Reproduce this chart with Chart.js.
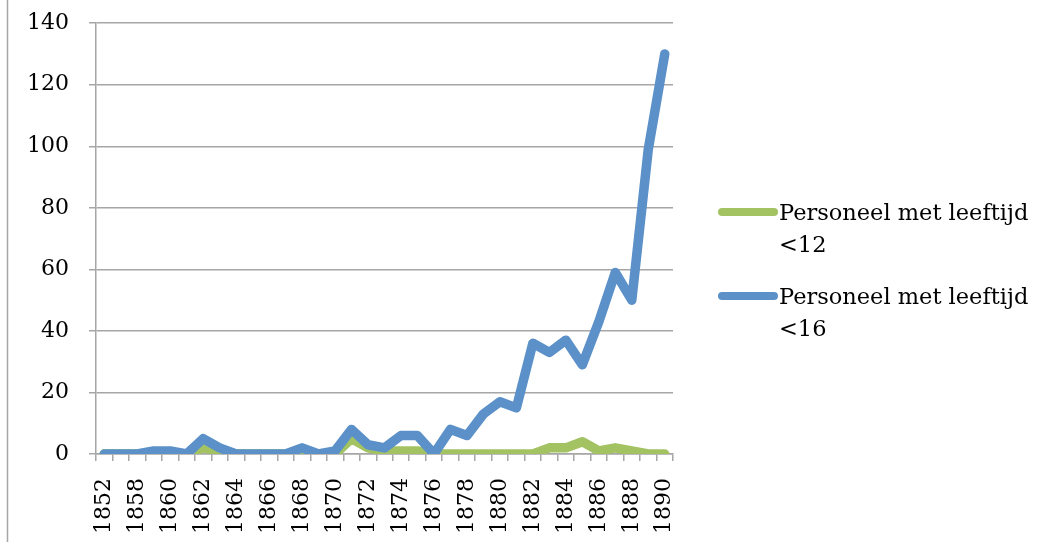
<!DOCTYPE html>
<html>
<head>
<meta charset="utf-8">
<script src="https://cdn.jsdelivr.net/npm/chart.js@4/dist/chart.umd.min.js"></script>
<style>
  html, body { margin: 0; padding: 0; background: #fff; }
  #wrap { position: relative; width: 1055px; height: 542px; overflow: hidden; }
  #chart { position: absolute; left: 0; top: -10px; }
</style>
</head>
<body>
<div id="wrap"><canvas id="chart" width="1055" height="562"></canvas></div>
<script>
// years on the category axis (second one has a hidden label)
const years = ['1852', '1856', '1858', '1859', '1860', '1861', '1862', '1863', '1864', '1865',
  '1866', '1867', '1868', '1869', '1870', '1871', '1872', '1873', '1874', '1875',
  '1876', '1877', '1878', '1879', '1880', '1881', '1882', '1883', '1884', '1885',
  '1886', '1887', '1888', '1889', '1890'];

const under12 = [0, 0, 0, 0, 0, 0, 2, 1, 0, 0,
  0, 0, 0, 0, 0, 5, 2, 1, 1, 1,
  0, 0, 0, 0, 0, 0, 0, 2, 2, 4,
  1, 2, 1, 0, 0];

const under16 = [0, 0, 0, 1, 1, 0, 5, 2, 0, 0,
  0, 0, 2, 0, 1, 8, 3, 2, 6, 6,
  0, 8, 6, 13, 17, 15, 36, 33, 37, 29,
  43, 59, 50, 99, 130];

const seriesNames = [['Personeel met leeftijd', '<12'], ['Personeel met leeftijd', '<16']];
const yTicks = [0, 20, 40, 60, 80, 100, 120, 140];

const green = '#a3c363';
const blue = '#5b90c8';
const gridGrey = '#a6a6a6';
const serif = "'DejaVu Serif', 'Liberation Serif', serif";
const shift = 10; // canvas sits 10px above the page top

// draws the left frame line and the two-line legend on the right
const extras = {
  id: 'extras',
  afterDraw(chart) {
    const ctx = chart.ctx;
    ctx.save();
    ctx.strokeStyle = gridGrey;
    ctx.lineWidth = 1.5;
    ctx.beginPath();
    ctx.moveTo(7.5, 0);
    ctx.lineTo(7.5, 562);
    ctx.stroke();

    const rows = [212 + shift, 296 + shift];
    chart.data.datasets.forEach((ds, i) => {
      const y = rows[i];
      ctx.strokeStyle = ds.borderColor;
      ctx.lineWidth = 8;
      ctx.lineCap = 'round';
      ctx.beginPath();
      ctx.moveTo(722, y);
      ctx.lineTo(774, y);
      ctx.stroke();
      ctx.fillStyle = '#000';
      ctx.font = '22.5px ' + serif;
      ctx.textBaseline = 'middle';
      ctx.textAlign = 'left';
      seriesNames[i].forEach((t, k) => {
        ctx.fillText(t, 779, y + 2 + k * 32);
      });
    });
    ctx.restore();
  }
};

new Chart(document.getElementById('chart'), {
  type: 'line',
  data: {
    labels: years,
    datasets: [
      {
        label: seriesNames[0].join(' '),
        data: under12,
        borderColor: green,
        backgroundColor: green,
        order: 1
      },
      {
        label: seriesNames[1].join(' '),
        data: under16,
        borderColor: blue,
        backgroundColor: blue,
        order: 0
      }
    ]
  },
  options: {
    responsive: false,
    animation: false,
    layout: { padding: { left: 7, top: 0, right: 382, bottom: 1 } },
    elements: {
      line: { borderWidth: 9.5, tension: 0, borderJoinStyle: 'round', borderCapStyle: 'round' },
      point: { radius: 0 }
    },
    plugins: {
      legend: { display: false },
      tooltip: { enabled: false }
    },
    scales: {
      x: {
        offset: true,
        grid: {
          offset: true,
          drawOnChartArea: false,
          drawTicks: true,
          tickLength: 7,
          color: gridGrey,
          lineWidth: 1.5
        },
        border: { color: gridGrey, width: 1.5 },
        ticks: {
          autoSkip: false,
          maxRotation: 90,
          minRotation: 90,
          padding: 17,
          color: '#000',
          font: { family: serif, size: 22 },
          callback: function(value, index) {
            return index % 2 === 0 ? years[index] : '';
          }
        }
      },
      y: {
        min: yTicks[0],
        max: yTicks[yTicks.length - 1],
        afterBuildTicks: function(axis) {
          axis.ticks = yTicks.map(v => ({ value: v }));
        },
        grid: {
          color: gridGrey,
          lineWidth: 1.5,
          tickLength: 7
        },
        border: { color: gridGrey, width: 1.5 },
        ticks: {
          padding: 20,
          color: '#000',
          font: { family: serif, size: 22 }
        }
      }
    }
  },
  plugins: [extras]
});
</script>
</body>
</html>
